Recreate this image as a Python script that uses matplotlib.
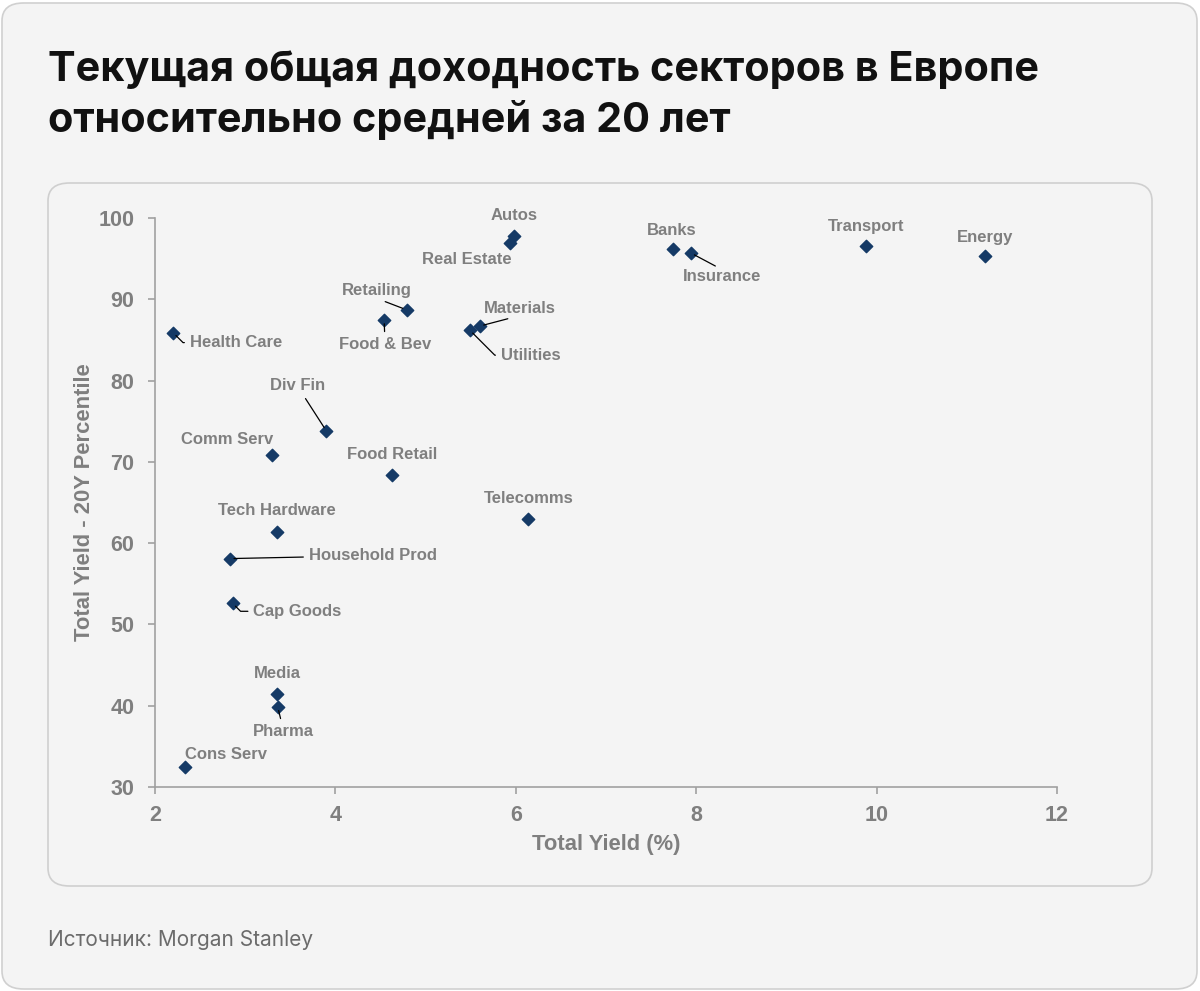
import matplotlib.pyplot as plt
from matplotlib.patches import FancyBboxPatch

# sector data
sectors = ["Autos", "Real Estate", "Banks", "Insurance", "Transport", "Energy",
           "Retailing", "Food & Bev", "Materials", "Utilities", "Health Care",
           "Div Fin", "Comm Serv", "Food Retail", "Telecomms", "Tech Hardware",
           "Household Prod", "Cap Goods", "Media", "Pharma", "Cons Serv"]
total_yield = [5.98, 5.94, 7.74, 7.94, 9.88, 11.20,
               4.79, 4.54, 5.60, 5.49, 2.20,
               3.90, 3.30, 4.63, 6.14, 3.35,
               2.83, 2.86, 3.35, 3.36, 2.33]
percentile = [97.8, 96.9, 96.2, 95.7, 96.6, 95.3,
              88.7, 87.5, 86.7, 86.2, 85.9,
              73.8, 70.8, 68.4, 63.0, 61.4,
              58.1, 52.6, 41.5, 39.9, 32.5]

# label offsets in pixels (dx, dy) and leader style (None = no line)
STRAIGHT = "arc3"
ELBOW = "angle,angleA=0,angleB=-45,rad=0"
label_offsets = {
    "Autos": (0, 20, None), "Real Estate": (-44, -16, None),
    "Banks": (-1, 18, None), "Insurance": (31, -24, STRAIGHT),
    "Transport": (0, 19, None), "Energy": (0, 19, None),
    "Retailing": (-30, 19, STRAIGHT), "Food & Bev": (1, -25, STRAIGHT),
    "Materials": (40, 18, STRAIGHT), "Utilities": (61, -25, ELBOW),
    "Health Care": (63, -10, ELBOW), "Div Fin": (-29, 45, STRAIGHT),
    "Comm Serv": (-45, 16, None), "Food Retail": (0, 20, None),
    "Telecomms": (0, 20, None), "Tech Hardware": (0, 21, None),
    "Household Prod": (143, 3, STRAIGHT), "Cap Goods": (65, -8, ELBOW),
    "Media": (1, 20, None), "Pharma": (6, -25, STRAIGHT),
    "Cons Serv": (41, 12, None),
}
# where the leader leaves the label box (default is auto)
leader_start = {"Retailing": (0.5, 0), "Materials": (0.5, 0), "Insurance": (0.5, 1)}

BG = "#f4f4f4"
GRAY = "#7f7f7f"
NAVY = "#153a66"

fig = plt.figure(figsize=(12, 9.91), dpi=100)
fig.patch.set_facecolor("white")

W, H = 1200, 991
# outer card
fig.patches.append(FancyBboxPatch((2 / W, 2 / H), 1195 / W, 986 / H,
                                  boxstyle="round,pad=0,rounding_size=0.018",
                                  transform=fig.transFigure, facecolor=BG,
                                  edgecolor="#d0d0d0", lw=1.2, zorder=-2))
# inner chart box
fig.patches.append(FancyBboxPatch((48 / W, (H - 886) / H), 1104 / W, 703 / H,
                                  boxstyle="round,pad=0,rounding_size=0.018",
                                  transform=fig.transFigure, facecolor=BG,
                                  edgecolor="#cfcfcf", lw=1.2, zorder=-1))

fig.text(48 / W, 1 - 50 / H, "Текущая общая доходность секторов в Европе\nотносительно средней за 20 лет",
         fontsize=29.8, fontweight="bold", family=["Inter", "DejaVu Sans"],
         va="top", ha="left", linespacing=1.36, color="#111111")
fig.text(48 / W, 1 - 940 / H, "Источник: Morgan Stanley", fontsize=15,
         family=["Inter", "DejaVu Sans"], color="#6b6b6b", va="center", ha="left")

ax = fig.add_axes([155 / W, 1 - 787 / H, 902 / W, 569 / H])
ax.set_zorder(2)
ax.patch.set_alpha(0)

ax.scatter(total_yield, percentile, marker="D", s=40, color=NAVY, zorder=3)

lbl_font = dict(fontsize=12, fontweight="bold", color=GRAY, family="Liberation Sans")
for name, x, y in zip(sectors, total_yield, percentile):
    dx, dy, conn = label_offsets[name]
    arrow = None
    if conn:
        arrow = dict(arrowstyle="-", color="black", lw=0.9, shrinkA=2, shrinkB=3,
                     connectionstyle=conn)
        if name in leader_start:
            arrow["relpos"] = leader_start[name]
            arrow["shrinkA"] = 1
    ax.annotate(name, (x, y), xytext=(dx, dy), textcoords="offset pixels",
                ha="center", va="center", arrowprops=arrow, **lbl_font)

ax.set_xlim(2, 12)
ax.set_ylim(30, 100)
ax.set_xticks(range(2, 13, 2))
ax.set_yticks(range(30, 101, 10))
for s in ["top", "right"]:
    ax.spines[s].set_visible(False)
for s in ["left", "bottom"]:
    ax.spines[s].set_color("#a0a0a0")
    ax.spines[s].set_linewidth(1.2)
ax.tick_params(axis="both", colors="#a0a0a0", length=5, width=1.2,
               labelcolor=GRAY, labelsize=15.5)
ax.tick_params(axis="y", pad=10)
ax.tick_params(axis="x", pad=8)
for t in ax.get_xticklabels() + ax.get_yticklabels():
    t.set_fontweight("bold")
    t.set_family("Liberation Sans")

ax.set_xlabel("Total Yield (%)", fontsize=15.8, fontweight="bold", color=GRAY,
              family="Liberation Sans")
ax.set_ylabel("Total Yield - 20Y Percentile", fontsize=15.8, fontweight="bold",
              color=GRAY, family="Liberation Sans")
ax.xaxis.set_label_coords(0.5, -0.082)
ax.yaxis.set_label_coords(-0.067, 0.5)

fig.savefig("out.png", dpi=100, facecolor=fig.get_facecolor())
